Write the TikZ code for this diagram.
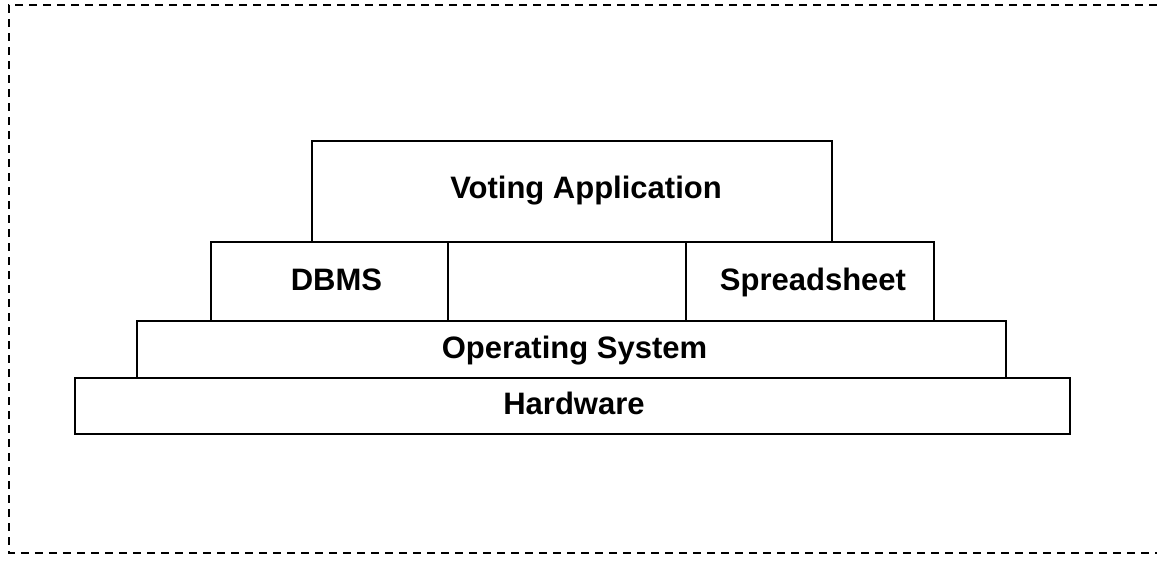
\documentclass[tikz,border=0pt]{standalone}
\usepackage{fontspec}
\setmainfont{Liberation Sans}
\begin{document}
\begin{tikzpicture}[x=1pt, y=-1pt,
    layer/.style={draw, line width=2.2pt, inner sep=0pt,
        text height=22pt, text depth=5pt,
        font=\fontsize{31}{36}\selectfont\bfseries},
    frame/.style={line width=2pt, dash pattern=on 8pt off 6pt}]

            \useasboundingbox (0,0) rectangle (1157,560);

            \coordinate (tl) at (9,5);
            \coordinate (tr) at (1157,5);
            \coordinate (bl) at (9,553);
            \coordinate (br) at (1157,553);

            \draw[frame] (tr) -- (tl) -- (bl) -- (br);

            \node[layer, minimum width=995pt, minimum height=56pt]
            (hw) at (572.5,406) {\hspace*{3pt}Hardware};

            \node[layer, minimum width=869pt, minimum height=57pt]
            (os) at (571.5,349.5) {\hspace*{6pt}Operating System};

            \node[layer, minimum width=237pt, minimum height=79pt]
            (dbms) at (329.5,281.5) {\hspace*{14pt}DBMS};

            \node[layer, minimum width=238pt, minimum height=79pt]
            (gap) at (567,281.5) {};

            \node[layer, minimum width=248pt, minimum height=79pt]
            (sheet) at (810,281.5) {\hspace*{6pt}Spreadsheet};

            \node[layer, minimum width=520pt, minimum height=101pt,
                text depth=8pt]
            (vote) at (572,191.5) {\hspace*{28pt}Voting Application};

\end{tikzpicture}
\end{document}
